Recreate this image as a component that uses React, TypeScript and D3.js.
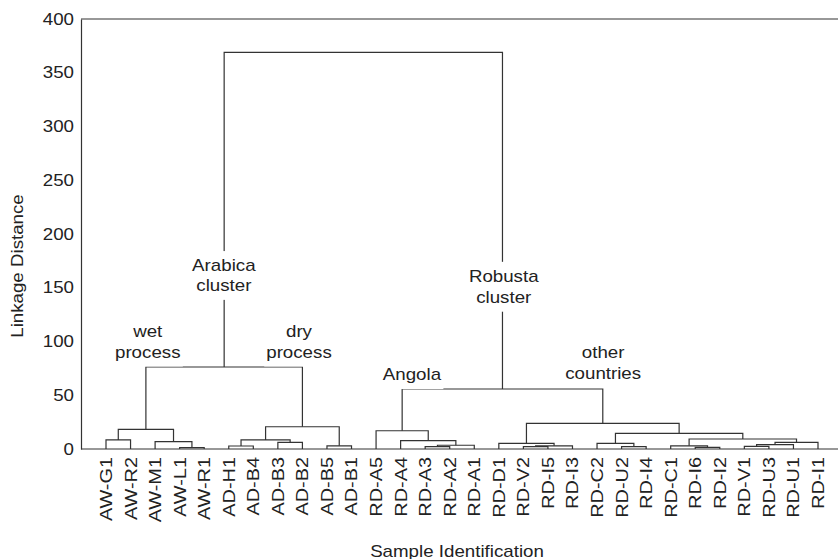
import React, { useEffect, useRef } from "react";
import * as d3 from "d3";

// leaf order along the x axis
const leaves = [
  "AW-G1", "AW-R2", "AW-M1", "AW-L1", "AW-R1",
  "AD-H1", "AD-B4", "AD-B3", "AD-B2", "AD-B5", "AD-B1",
  "RD-A5", "RD-A4", "RD-A3", "RD-A2", "RD-A1",
  "RD-D1", "RD-V2", "RD-I5", "RD-I3", "RD-C2", "RD-U2", "RD-I4",
  "RD-C1", "RD-I6", "RD-I2", "RD-V1", "RD-U3", "RD-U1", "RD-I1",
];

// merges: [id, left, right, linkage distance]
const merges: [string, string, string, number][] = [
  ["m1", "AW-L1", "AW-R1", 1.2],
  ["m2", "AW-G1", "AW-R2", 8.4],
  ["m3", "AW-M1", "m1", 6.8],
  ["wet", "m2", "m3", 18.3],
  ["m4", "AD-H1", "AD-B4", 2.8],
  ["m5", "AD-B3", "AD-B2", 6.2],
  ["m6", "m4", "m5", 8.4],
  ["m7", "AD-B5", "AD-B1", 3],
  ["dry", "m6", "m7", 20.7],
  ["arabica", "wet", "dry", 76.3],
  ["m8", "RD-A3", "RD-A2", 2.2],
  ["m9", "m8", "RD-A1", 3.5],
  ["m10", "RD-A4", "m9", 7.7],
  ["angola", "RD-A5", "m10", 17],
  ["m11", "RD-V2", "RD-I5", 2.2],
  ["m12", "m11", "RD-I3", 3],
  ["m13", "RD-D1", "m12", 5.3],
  ["m14", "RD-U2", "RD-I4", 2.2],
  ["m15", "RD-C2", "m14", 5.3],
  ["m16", "RD-I6", "RD-I2", 1.5],
  ["m17", "RD-C1", "m16", 3],
  ["m18", "RD-V1", "RD-U3", 2.5],
  ["m19", "m18", "RD-U1", 4],
  ["m20", "m19", "RD-I1", 6.2],
  ["m21", "m17", "m20", 9.3],
  ["m22", "m15", "m21", 14.5],
  ["other", "m13", "m22", 23.8],
  ["robusta", "angola", "other", 55.8],
  ["root", "arabica", "robusta", 369],
];

const yTicks = [0, 50, 100, 150, 200, 250, 300, 350, 400];

// annotations: lines, position in leaf-index units and linkage distance
const notes: { lines: string[]; at: number; dist: number[] }[] = [
  { lines: ["Arabica", "cluster"], at: 4.8, dist: [171, 152] },
  { lines: ["Robusta", "cluster"], at: 16.2, dist: [161, 141] },
  { lines: ["wet", "process"], at: 1.7, dist: [109, 90] },
  { lines: ["dry", "process"], at: 7.86, dist: [109, 90] },
  { lines: ["Angola"], at: 12.46, dist: [69] },
  { lines: ["other", "countries"], at: 20.25, dist: [90, 70.5] },
];

const FONT = "'Liberation Sans', Arial, Helvetica, sans-serif";
const STRETCH = "scale(1.17,1)";

const Dendrogram: React.FC = () => {
  const ref = useRef<SVGSVGElement | null>(null);

  useEffect(() => {
    if (!ref.current) return;
    const W = 838, H = 559;
    const svg = d3.select(ref.current).attr("width", W).attr("height", H);
    svg.selectAll("*").remove();

    const left = 81, right = 838, top = 19, bottom = 449;

    const x = d3.scaleLinear().domain([0, leaves.length - 1]).range([106, 818]);
    const y = d3.scaleLinear().domain([0, 400]).range([bottom, top]);

    const g = svg.append("g").style("font-family", FONT);

    // frame lines
    g.append("line").attr("x1", left).attr("x2", right).attr("y1", top).attr("y2", top)
      .attr("stroke", "#333").attr("stroke-width", 1.2);
    g.append("line").attr("x1", left).attr("x2", right).attr("y1", bottom).attr("y2", bottom)
      .attr("stroke", "#333").attr("stroke-width", 1.2);

    // y axis
    const ya = g.append("g")
      .attr("transform", `translate(${left},0)`)
      .call(d3.axisLeft(y).tickValues(yTicks).tickSize(0).tickSizeOuter(0).tickPadding(6));
    ya.select(".domain").attr("stroke", "#333").attr("stroke-width", 1.2);
    ya.selectAll("text")
      .style("font-size", "16px")
      .style("font-family", FONT)
      .attr("fill", "#222")
      .attr("transform", STRETCH);

    // tree
    const pos = new Map<string, { x: number; h: number }>();
    leaves.forEach((name, i) => pos.set(name, { x: x(i), h: 0 }));

    const links = g.append("g")
      .attr("fill", "none")
      .attr("stroke", "#333")
      .attr("stroke-width", 1.2);

    merges.forEach(([id, a, b, h]) => {
      const pa = pos.get(a)!;
      const pb = pos.get(b)!;
      const p = d3.path();
      p.moveTo(pa.x, y(pa.h));
      p.lineTo(pa.x, y(h));
      p.lineTo(pb.x, y(h));
      p.lineTo(pb.x, y(pb.h));
      links.append("path").attr("d", p.toString());
      pos.set(id, { x: (pa.x + pb.x) / 2, h });
    });

    // annotations with white backing so lines break behind them
    notes.forEach((n) => {
      const ng = g.append("g");
      const bg = ng.append("rect").attr("fill", "#fff");
      n.lines.forEach((line, i) => {
        ng.append("text")
          .attr("transform", `translate(${x(n.at)},${y(n.dist[i])}) ${STRETCH}`)
          .attr("text-anchor", "middle")
          .attr("dy", "0.35em")
          .style("font-size", "16px")
          .attr("fill", "#222")
          .text(line);
      });
      const bb = (ng.node() as SVGGElement).getBBox();
      bg.attr("x", bb.x - 2).attr("y", bb.y - 5).attr("width", bb.width + 4).attr("height", bb.height + 10);
    });

    // leaf labels
    g.append("g")
      .selectAll("text")
      .data(leaves)
      .join("text")
      .attr("transform", (d, i) => `translate(${x(i)},${bottom + 8}) rotate(-90) ${STRETCH}`)
      .attr("text-anchor", "end")
      .attr("dy", "0.35em")
      .style("font-size", "17px")
      .attr("fill", "#222")
      .text((d) => d);

    // axis titles
    g.append("text")
      .attr("transform", `translate(17,266) rotate(-90) ${STRETCH}`)
      .attr("text-anchor", "middle")
      .attr("dy", "0.35em")
      .style("font-size", "16px")
      .attr("fill", "#222")
      .text("Linkage Distance");

    g.append("text")
      .attr("transform", `translate(457,551) ${STRETCH}`)
      .attr("text-anchor", "middle")
      .attr("dy", "0.35em")
      .style("font-size", "16px")
      .attr("fill", "#222")
      .text("Sample Identification");
  }, []);

  return <svg ref={ref} style={{ position: "absolute", left: 0, top: 0, background: "#fff" }} />;
};

export default function App() {
  return <Dendrogram />;
}
